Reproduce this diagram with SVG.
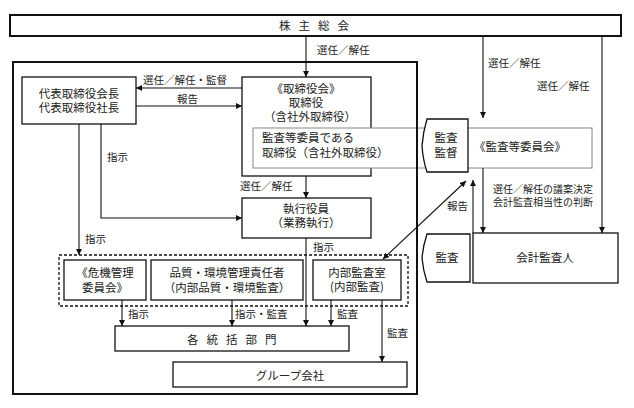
<svg xmlns="http://www.w3.org/2000/svg" width="634" height="408" viewBox="0 0 634 408">
<defs>
<marker id="ah" viewBox="0 0 10 10" refX="10" refY="5" markerWidth="6" markerHeight="6" markerUnits="userSpaceOnUse" orient="auto-start-reverse">
<path d="M0,0 L10,5 L0,10 z" fill="#111"/>
</marker>
<style>
text{font-family:"Noto Sans CJK JP","Noto Sans CJK SC",sans-serif;fill:#222}
.t{font-size:11.5px;text-anchor:middle}
.l{font-size:10.5px}
.s{font-size:10px}
.box{fill:#fff;stroke:#111;stroke-width:1.3}
.thick{fill:none;stroke:#111;stroke-width:2}
.c{fill:none;stroke:#111;stroke-width:1.1;marker-end:url(#ah)}
</style>
</defs>
<rect width="634" height="408" fill="#fff"/>

<g id="shareholders">
<rect x="10" y="15" width="611" height="21" fill="#fff" stroke="#111" stroke-width="2"/>
<text x="279" y="30" style="font-size:11.5px;letter-spacing:8px">株主総会</text>
</g>

<g id="representative">
<rect class="box" x="22" y="77" width="114" height="47"/>
<text class="t" x="79" y="98">代表取締役会長</text>
<text class="t" x="79" y="112">代表取締役社長</text>
</g>

<g id="board">
<rect class="box" x="242" y="77" width="129" height="99"/>
<text class="t" x="306" y="93">《取締役会》</text>
<text class="t" x="306" y="107">取締役</text>
<text class="t" x="310" y="121">（含社外取締役）</text>
</g>

<g id="audit-committee">
<rect x="253" y="128" width="339" height="40" fill="#fff" stroke="#888" stroke-width="1"/>
<text x="262" y="142" style="font-size:11.5px">監査等委員である</text>
<text x="262" y="157" style="font-size:11.5px">取締役（含社外取締役）</text>
<text class="t" x="520" y="151">《監査等委員会》</text>
</g>

<g id="outer-frame">
<rect class="thick" x="13" y="62" width="404" height="332"/>
</g>

<g id="audit-supervision">
<path d="M427,119 L468,119 L468,172 L427,172 Q423,160 422,146 Q423,132 427,119 z" fill="#fff" stroke="#111" stroke-width="1.3"/>
<text class="t" x="446" y="142">監査</text>
<text class="t" x="446" y="157">監督</text>
</g>

<g id="officers">
<rect class="box" x="242" y="198" width="129" height="40"/>
<text class="t" x="306" y="213">執行役員</text>
<text class="t" x="306" y="227">（業務執行）</text>
</g>

<g id="dashed-group">
<rect x="59" y="255" width="349" height="51" fill="none" stroke="#111" stroke-width="1.3" stroke-dasharray="3,2"/>
</g>

<g id="risk-committee">
<rect class="box" x="64" y="260" width="82" height="40"/>
<text class="t" x="105" y="277">《危機管理</text>
<text class="t" x="105" y="292">委員会》</text>
</g>

<g id="quality">
<rect class="box" x="151" y="260" width="152" height="40"/>
<text class="t" x="227" y="277">品質・環境管理責任者</text>
<text class="t" x="227" y="292">（内部品質・環境監査）</text>
</g>

<g id="internal-audit">
<rect class="box" x="313" y="260" width="88" height="40"/>
<text class="t" x="357" y="277">内部監査室</text>
<text class="t" x="357" y="291">(内部監査)</text>
</g>

<g id="divisions">
<rect class="box" x="115" y="326" width="234" height="25"/>
<text x="187" y="344" style="font-size:11.5px;letter-spacing:8px">各統括部門</text>
</g>

<g id="group-companies">
<rect class="box" x="173" y="362" width="234" height="25"/>
<text class="t" x="290" y="380">グループ会社</text>
</g>

<g id="auditor-audit">
<path d="M427,234 L470,234 L470,282 L427,282 Q423,270 422,258 Q423,246 427,234 z" fill="#fff" stroke="#111" stroke-width="1.3"/>
<text class="t" x="447" y="262">監査</text>
</g>

<g id="accounting-auditor">
<rect class="box" x="473" y="233" width="145" height="50"/>
<text class="t" x="545" y="262">会計監査人</text>
</g>

<g id="connectors">
<path class="c" d="M306,36 V77"/>
<path class="c" d="M242,88 H136"/>
<path class="c" d="M136,106 H242"/>
<path class="c" d="M306,176 V198"/>
<path class="c" d="M101,124 V218 H242"/>
<path class="c" d="M79,124 V255"/>
<path class="c" d="M306,238 V326"/>
<path class="c" d="M122,300 V326"/>
<path class="c" d="M232,300 V326"/>
<path class="c" d="M331,300 V326"/>
<path class="c" d="M382,300 V362"/>
<path class="c" d="M383,259 L466,181" style="marker-start:url(#ah)"/>
<path class="c" d="M483,36 V118"/>
<path class="c" d="M602,36 V233"/>
<path class="c" d="M483,168 V233"/>
<path class="c" d="M473,233 V180"/>
</g>

<g id="labels">
<text class="l" x="317" y="54">選任／解任</text>
<text class="l" x="143" y="84">選任／解任・監督</text>
<text class="l" x="177" y="103">報告</text>
<text class="l" x="240" y="190">選任／解任</text>
<text class="l" x="107" y="161">指示</text>
<text class="l" x="85" y="243">指示</text>
<text class="l" x="313" y="251">指示</text>
<text class="l" x="128" y="318">指示</text>
<text class="l" x="235" y="318">指示・監査</text>
<text class="l" x="337" y="318">監査</text>
<text class="l" x="387" y="337">監査</text>
<text class="l" x="488" y="67">選任／解任</text>
<text class="l" x="537" y="90">選任／解任</text>
<text class="s" x="493" y="193">選任／解任の議案決定</text>
<text class="s" x="493" y="206">会計監査相当性の判断</text>
<text class="l" x="447" y="210">報告</text>
</g>
</svg>
